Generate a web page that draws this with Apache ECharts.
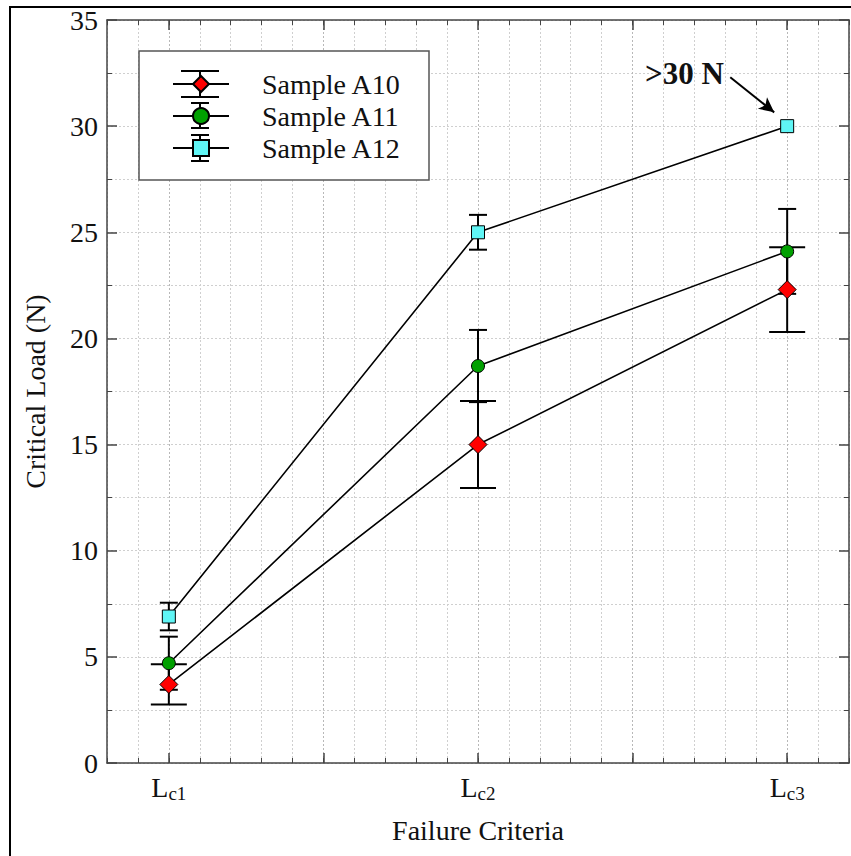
<!DOCTYPE html>
<html>
<head>
<meta charset="utf-8">
<script src="https://cdn.jsdelivr.net/npm/echarts@6/dist/echarts.min.js"></script>
<style>html,body{margin:0;padding:0;background:#fff;}#c{width:851px;height:856px;}</style>
</head>
<body>
<div id="c"></div>
<script>
// ---- data ----
const categories = ['c1', 'c2', 'c3'];          // L subscript labels
const categoryPos = [1, 2, 3];                 // positions on the x scale
const seriesNames = ['Sample A10', 'Sample A11', 'Sample A12'];
const a10 = [3.7, 15.0, 22.3];
const a10Err = [0.95, 2.05, 2.0];
const a11 = [4.7, 18.7, 24.1];
const a11Err = [1.25, 1.7, 2.0];
const a12 = [6.9, 25.0, 30.0];
const a12Err = [0.65, 0.82, 0];
const yTicks = [0, 5, 10, 15, 20, 25, 30, 35];
const xMajorTicks = [1, 1.5, 2, 2.5, 3];
const annotationText = '>30 N';
const annotationPos = [2.668, 32.5];
const arrowFrom = [2.816, 32.3];
const arrowTo = [2.958, 30.65];

const FONT = 'Liberation Serif';
const FS = 28;
const chart = echarts.init(document.getElementById('c'), null, {renderer: 'svg'});

function pts(vals) { return vals.map((v, i) => [categoryPos[i], v]); }
function errPts(vals, errs) { return vals.map((v, i) => [categoryPos[i], v, errs[i]]); }

function errSeries(name, vals, errs, half) {
  return {
    type: 'custom', name: name + ' err', xAxisIndex: 0, yAxisIndex: 0,
    silent: true, legendHoverLink: false,
    data: errPts(vals, errs),
    renderItem: function (params, api) {
      const x = api.value(0), y = api.value(1), e = api.value(2);
      if (!e) return null;
      const t = api.coord([x, y + e]);
      const b = api.coord([x, y - e]);
      const st = {stroke: '#000', lineWidth: 2};
      return {type: 'group', children: [
        {type: 'line', shape: {x1: t[0], y1: t[1], x2: b[0], y2: b[1]}, style: st},
        {type: 'line', shape: {x1: t[0] - half, y1: t[1], x2: t[0] + half, y2: t[1]}, style: st},
        {type: 'line', shape: {x1: b[0] - half, y1: b[1], x2: b[0] + half, y2: b[1]}, style: st}
      ]};
    },
    z: 3
  };
}
function lineSeries(name, vals, symbol, size, color, extra) {
  return Object.assign({
    type: 'line', name: name, xAxisIndex: 0, yAxisIndex: 0,
    data: pts(vals), symbol: symbol, symbolSize: size,
    showAllSymbol: true,
    lineStyle: {color: '#000', width: 1.6},
    itemStyle: {color: color, borderColor: '#000', borderWidth: 1},
    emphasis: {disabled: true},
    z: 3
  }, extra || {});
}

const axisGray = '#444';
const gridLine = {show: true, lineStyle: {color: '#cfcfcf', type: [2, 2], width: 1}};
const xBase = {type: 'value', min: 0.8, max: 3.2, gridIndex: 0};

const option = {
  animation: false,
  backgroundColor: '#fff',
  textStyle: {fontFamily: FONT},
  grid: {left: 107, top: 20, right: 2, bottom: 93, containLabel: false},
  xAxis: [
    Object.assign({}, xBase, {
      position: 'bottom', interval: 0.1,
      axisLine: {show: true, lineStyle: {color: axisGray, width: 1.5}},
      axisTick: {show: true, inside: true, length: 5, lineStyle: {color: axisGray}},
      axisLabel: {show: false},
      splitLine: gridLine,
      name: 'Failure Criteria', nameLocation: 'middle', nameGap: 53,
      nameTextStyle: {fontFamily: FONT, fontSize: FS, color: '#111'}
    }),
    Object.assign({}, xBase, {
      position: 'bottom',
      axisLine: {show: false},
      axisTick: {show: true, inside: true, length: 10, customValues: xMajorTicks, lineStyle: {color: axisGray, width: 1.5}},
      axisLabel: {
        show: true, margin: 8, customValues: categoryPos,
        formatter: function (v) {
          const i = categoryPos.findIndex(p => Math.abs(p - v) < 1e-6);
          return i < 0 ? '' : '{l|L}{s|' + categories[i] + '}';
        },
        rich: {
          l: {fontFamily: FONT, fontSize: FS, color: '#111', lineHeight: 32},
          s: {fontFamily: FONT, fontSize: 19, color: '#111', lineHeight: 20, padding: [13, 0, 0, 0]}
        }
      },
      splitLine: {show: true, lineStyle: {color: '#b8b8b8', type: [2, 2], width: 1}}
    }),
    Object.assign({}, xBase, {
      position: 'top', interval: 0.1,
      axisLine: {show: true, lineStyle: {color: axisGray, width: 1.5}},
      axisTick: {show: true, inside: true, length: 5, lineStyle: {color: axisGray}},
      axisLabel: {show: false}, splitLine: {show: false}
    }),
    Object.assign({}, xBase, {
      position: 'top',
      axisLine: {show: false},
      axisTick: {show: true, inside: true, length: 10, customValues: xMajorTicks, lineStyle: {color: axisGray, width: 1.5}},
      axisLabel: {show: false}, splitLine: {show: false}
    })
  ],
  yAxis: [
    {
      type: 'value', min: yTicks[0], max: yTicks[yTicks.length - 1], interval: 5, position: 'left',
      axisLine: {show: true, lineStyle: {color: axisGray, width: 1.5}},
      axisTick: {show: true, inside: true, length: 10, lineStyle: {color: axisGray, width: 1.5}},
      minorTick: {show: true, splitNumber: 2, length: 5, lineStyle: {color: axisGray}},
      axisLabel: {fontFamily: FONT, fontSize: FS, color: '#111', margin: 9},
      splitLine: gridLine,
      minorSplitLine: gridLine,
      name: 'Critical Load (N)', nameLocation: 'middle', nameGap: 58,
      nameTextStyle: {fontFamily: FONT, fontSize: FS, color: '#111'}
    },
    {
      type: 'value', min: yTicks[0], max: yTicks[yTicks.length - 1], interval: 5, position: 'right',
      axisLine: {show: true, lineStyle: {color: axisGray, width: 1.5}},
      axisTick: {show: true, inside: true, length: 10, lineStyle: {color: axisGray, width: 1.5}},
      minorTick: {show: true, splitNumber: 2, length: 5, lineStyle: {color: axisGray}},
      axisLabel: {show: false}, splitLine: {show: false}
    }
  ],
  legend: {
    show: true, orient: 'vertical', left: 172, top: 70, padding: 0,
    data: seriesNames,
    itemWidth: 56, itemHeight: 20, itemGap: 4,
    selectedMode: false,
    textStyle: {fontFamily: FONT, fontSize: FS, color: '#111', padding: [0, 0, 0, 28]},
    z: 6
  },
  graphic: [
    {type: 'rect', shape: {x: 10, y: 7, width: 900, height: 900}, style: {fill: 'none', stroke: '#000', lineWidth: 2}, z: 10, silent: true},
    {type: 'rect', shape: {x: 139, y: 51, width: 290, height: 129}, style: {fill: '#fff', stroke: '#555', lineWidth: 1.5}, z: 5, silent: true},
    // legend error-bar decorations
    {type: 'line', shape: {x1: 200, y1: 71, x2: 200, y2: 97}, style: {stroke: '#000', lineWidth: 2}, z: 5, silent: true},
    {type: 'line', shape: {x1: 181, y1: 71, x2: 219, y2: 71}, style: {stroke: '#000', lineWidth: 2}, z: 5, silent: true},
    {type: 'line', shape: {x1: 181, y1: 97, x2: 219, y2: 97}, style: {stroke: '#000', lineWidth: 2}, z: 5, silent: true},
    {type: 'line', shape: {x1: 200, y1: 103, x2: 200, y2: 128}, style: {stroke: '#000', lineWidth: 2}, z: 5, silent: true},
    {type: 'line', shape: {x1: 191, y1: 103, x2: 209, y2: 103}, style: {stroke: '#000', lineWidth: 2}, z: 5, silent: true},
    {type: 'line', shape: {x1: 191, y1: 128, x2: 209, y2: 128}, style: {stroke: '#000', lineWidth: 2}, z: 5, silent: true},
    {type: 'line', shape: {x1: 200, y1: 135, x2: 200, y2: 161}, style: {stroke: '#000', lineWidth: 2}, z: 5, silent: true},
    {type: 'line', shape: {x1: 191, y1: 135, x2: 209, y2: 135}, style: {stroke: '#000', lineWidth: 2}, z: 5, silent: true},
    {type: 'line', shape: {x1: 191, y1: 161, x2: 209, y2: 161}, style: {stroke: '#000', lineWidth: 2}, z: 5, silent: true}
  ],
  series: [
    errSeries(seriesNames[2], a12, a12Err, 9),
    lineSeries(seriesNames[2], a12, 'rect', 13, '#5ff5f5', {
      markLine: {
        silent: true, symbol: ['none', 'arrow'], symbolSize: [11, 15],
        lineStyle: {color: '#000', width: 2, type: 'solid'}, label: {show: false},
        data: [[{coord: arrowFrom}, {coord: arrowTo}]]
      },
      markPoint: {
        silent: true, symbol: 'circle', symbolSize: 0,
        label: {show: true, position: 'inside', formatter: annotationText, fontFamily: FONT, fontWeight: 'bold', fontSize: 31, color: '#111'},
        data: [{coord: annotationPos}]
      }
    }),
    errSeries(seriesNames[1], a11, a11Err, 9),
    lineSeries(seriesNames[1], a11, 'circle', 13, '#00a000'),
    errSeries(seriesNames[0], a10, a10Err, 18),
    lineSeries(seriesNames[0], a10, 'diamond', 18, '#ff0000')
  ]
};
chart.setOption(option);
</script>
</body>
</html>
